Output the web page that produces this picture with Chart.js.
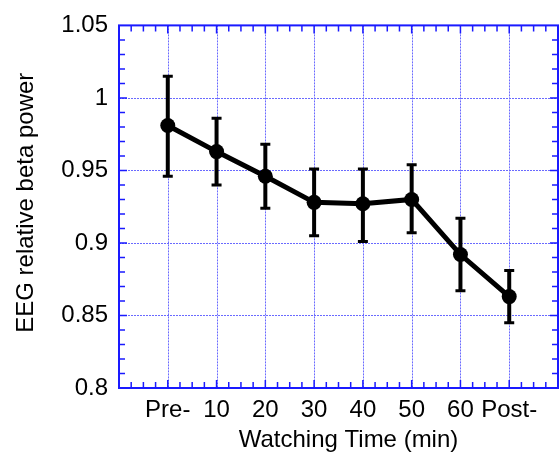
<!DOCTYPE html>
<html>
<head>
<meta charset="utf-8">
<script src="https://cdn.jsdelivr.net/npm/chart.js@4"></script>
<style>
  html, body { margin: 0; padding: 0; background: #fff; overflow: hidden; }
  #wrap { width: 560px; height: 452px; overflow: hidden; position: relative; }
  canvas { display: block; }
</style>
</head>
<body>
<div id="wrap"><canvas id="eeg" width="566" height="452"></canvas></div>
<script>
// x positions 1..8 on a 0..9 axis
const categories = ['Pre-', '10', '20', '30', '40', '50', '60', 'Post-'];
const meanPower  = [0.981, 0.963, 0.946, 0.928, 0.927, 0.930, 0.892, 0.863];
const upperErr   = [1.015, 0.986, 0.968, 0.951, 0.951, 0.954, 0.917, 0.881];
const lowerErr   = [0.946, 0.940, 0.924, 0.905, 0.901, 0.907, 0.867, 0.845];
const yTicks     = [0.8, 0.85, 0.9, 0.95, 1, 1.05];

const FONT = '"Liberation Sans", Arial, sans-serif';
const BLUE = '#1a1aff';

// frame, dotted grid, inward ticks, error bars, axis titles
const framePlugin = {
  id: 'frame',
  beforeDatasetsDraw(chart) {
    const { ctx, chartArea: a, scales: { x, y } } = chart;
    ctx.save();
    // dotted grid
    ctx.strokeStyle = '#6a6aff';
    ctx.lineWidth = 1;
    ctx.setLineDash([2, 1]);
    for (let i = 1; i <= categories.length; i++) {
      const px = Math.round(x.getPixelForValue(i)) + 0.5;
      ctx.beginPath(); ctx.moveTo(px, a.top); ctx.lineTo(px, a.bottom); ctx.stroke();
    }
    yTicks.slice(1, -1).forEach(v => {
      const py = Math.round(y.getPixelForValue(v)) + 0.5;
      ctx.beginPath(); ctx.moveTo(a.left, py); ctx.lineTo(a.right, py); ctx.stroke();
    });
    ctx.setLineDash([]);

    // error bars
    ctx.strokeStyle = '#000';
    meanPower.forEach((m, i) => {
      const px = x.getPixelForValue(i + 1);
      const top = y.getPixelForValue(upperErr[i]);
      const bot = y.getPixelForValue(lowerErr[i]);
      ctx.lineWidth = 4;
      ctx.beginPath(); ctx.moveTo(px, top); ctx.lineTo(px, bot); ctx.stroke();
      ctx.lineWidth = 3;
      ctx.beginPath();
      ctx.moveTo(px - 5, top); ctx.lineTo(px + 5, top);
      ctx.moveTo(px - 5, bot); ctx.lineTo(px + 5, bot);
      ctx.stroke();
    });
    ctx.restore();
  },
  afterDraw(chart) {
    const { ctx, chartArea: a, scales: { x, y } } = chart;
    ctx.save();
    ctx.strokeStyle = BLUE;
    ctx.lineWidth = 2;
    ctx.strokeRect(a.left, a.top, a.right - a.left, a.bottom - a.top);

    ctx.lineWidth = 1.5;
    ctx.beginPath();
    // x ticks, minor every 0.25
    for (let k = 1; k < 36; k++) {
      const v = k / 4;
      const len = k % 4 === 0 ? 8 : 6;
      const px = x.getPixelForValue(v);
      ctx.moveTo(px, a.bottom); ctx.lineTo(px, a.bottom - len);
      ctx.moveTo(px, a.top); ctx.lineTo(px, a.top + len);
    }
    // y ticks, minor every 0.01
    for (let k = 1; k < 25; k++) {
      const v = 0.8 + k / 100;
      const len = k % 5 === 0 ? 8 : 6;
      const py = y.getPixelForValue(v);
      ctx.moveTo(a.left, py); ctx.lineTo(a.left + len, py);
      ctx.moveTo(a.right, py); ctx.lineTo(a.right - len, py);
    }
    ctx.stroke();

    // axis titles
    ctx.fillStyle = '#000';
    ctx.font = '24px ' + FONT;
    ctx.textAlign = 'center';
    ctx.textBaseline = 'alphabetic';
    ctx.fillText('Watching Time (min)', (a.left + a.right) / 2 + 10, 447);
    ctx.translate(33, (a.top + a.bottom) / 2 - 4);
    ctx.rotate(-Math.PI / 2);
    ctx.fillText('EEG relative beta power', 0, 0);
    ctx.restore();
  }
};

new Chart(document.getElementById('eeg'), {
  type: 'line',
  data: {
    datasets: [{
      data: meanPower.map((v, i) => ({ x: i + 1, y: v })),
      borderColor: '#000',
      borderWidth: 5,
      backgroundColor: '#000',
      pointRadius: 7.5,
      pointBackgroundColor: '#000',
      pointBorderWidth: 0,
      tension: 0
    }]
  },
  options: {
    responsive: false,
    animation: false,
    devicePixelRatio: 1,
    layout: { padding: { left: 0, top: 25, right: 3.3, bottom: 0 } },
    plugins: { legend: { display: false }, tooltip: { enabled: false } },
    scales: {
      x: {
        type: 'linear', min: 0, max: 9,
        grid: { display: false, drawTicks: false },
        border: { display: false },
        ticks: {
          stepSize: 1, autoSkip: false, maxRotation: 0, padding: 8,
          color: '#000', font: { family: FONT, size: 24 },
          callback: v => categories[v - 1] || ''
        },
        afterFit(scale) { scale.height = 64; }
      },
      y: {
        min: 0.8, max: 1.05,
        grid: { display: false, drawTicks: false },
        border: { display: false },
        ticks: {
          stepSize: 0.05, padding: 11,
          color: '#000', font: { family: FONT, size: 24 },
          callback: v => String(+v.toFixed(2))
        },
        afterFit(scale) { scale.width = 119; }
      }
    }
  },
  plugins: [framePlugin]
});
</script>
</body>
</html>
